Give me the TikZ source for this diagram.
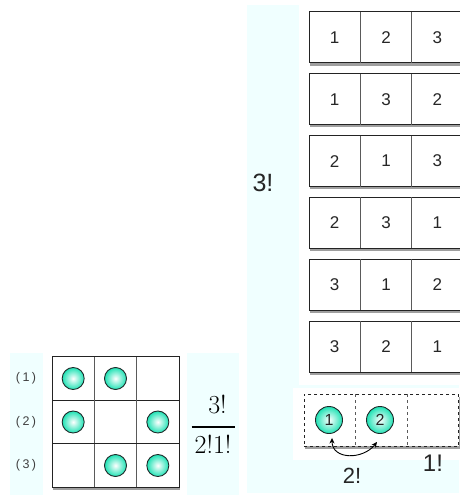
\documentclass[tikz,border=0pt]{standalone}
\usepackage{fontspec}
\usetikzlibrary{shadows,arrows.meta}
\newfontfamily\lblfont{Liberation Sans}
\definecolor{bgcyan}{RGB}{240,255,255}
\definecolor{ballc}{RGB}{30,226,180}
\definecolor{ballline}{RGB}{30,40,40}
\definecolor{boxline}{RGB}{35,35,35}
\definecolor{divline}{RGB}{90,90,90}
\tikzset{
  shadowed/.style={drop shadow={shadow xshift=1.2pt, shadow yshift=-2.6pt, opacity=0.5, fill=black!75}},
  rrow/.style={shadowed, draw=boxline, line width=1pt, fill=white, minimum width=154pt, minimum height=51pt, inner sep=0pt, outer sep=0pt},
  lrow/.style={shadowed, draw=boxline, line width=1pt, fill=white, minimum width=127pt, minimum height=43.5pt, inner sep=0pt, outer sep=0pt},
  drow/.style={shadowed, draw=boxline, dashed, line width=0.8pt, fill=white, minimum width=154.5pt, minimum height=52pt, inner sep=0pt, outer sep=0pt},
  rcell/.style={minimum width=51.33pt, minimum height=51pt, inner sep=0pt, outer sep=0pt, font=\lblfont\fontsize{17}{19}\selectfont, text=black!85},
  lcell/.style={minimum width=42.33pt, minimum height=43.5pt, inner sep=0pt, outer sep=0pt},
  dcell/.style={minimum width=51.5pt, minimum height=52pt, inner sep=0pt, outer sep=0pt},
  divider/.style={draw=divline, line width=0.6pt},
  ddivider/.style={draw=divline, dashed, line width=0.7pt},
  ball/.style={circle, draw=ballline, line width=0.9pt, inner color=white, outer color=ballc, minimum size=22pt, inner sep=0pt},
  bigball/.style={ball, minimum size=27pt, font=\lblfont\fontsize{16}{18}\selectfont, text=black!85},
  rowlbl/.style={font=\lblfont\fontsize{12.5}{14}\selectfont, text=black!75, inner sep=0pt},
  biglbl/.style={font=\lblfont\fontsize{#1}{#1}\selectfont, text=black!85, inner sep=0pt},
  fraclbl/.style={font=\fontsize{26}{26}\selectfont, inner sep=0pt},
  arrowline/.style={line width=0.9pt, {Stealth[length=5.5pt,width=5pt]}-{Stealth[length=5.5pt,width=5pt]}}
}
\begin{document}
\begin{tikzpicture}[x=1pt,y=-1pt]
\useasboundingbox (0,0) rectangle (459,495);
% backgrounds
\fill[bgcyan] (10,353) rectangle (43,495);
\fill[bgcyan] (187,353) rectangle (239,495);
\fill[bgcyan] (247,5) rectangle (459,493);
\fill[white] (299,5) rectangle (459,385);
\fill[white] (293,388) rectangle (459,460);

% left grid
\foreach \i/\yy in {1/378.5, 2/422, 3/465.5} {
  \node[lrow] (L\i) at (115.5,\yy) {};
  \node[lcell] (L\i-a) at (73.17,\yy) {};
  \node[lcell] (L\i-b) at (115.5,\yy) {};
  \node[lcell] (L\i-c) at (157.83,\yy) {};
  \draw[divider] (L\i-a.north east) -- (L\i-a.south east);
  \draw[divider] (L\i-b.north east) -- (L\i-b.south east);
  \node[rowlbl] (P\i) at (26,\yy) {(\kern2.5pt\i\kern2.5pt)};
}
\node[ball] (K1a) at (L1-a) {};
\node[ball] (K1b) at (L1-b) {};
\node[ball] (K2a) at (L2-a) {};
\node[ball] (K2c) at (L2-c) {};
\node[ball] (K3b) at (L3-b) {};
\node[ball] (K3c) at (L3-c) {};

% fraction
\node[fraclbl] (Fn) at (217.5,404.5) {3!};
\node[fraclbl] (Fd) at (213,444.5) {2!1!};
\coordinate (FL) at (191.5,427);
\coordinate (FR) at (234.5,427);
\draw[line width=1.2pt] (FL) -- (FR);

% right rows
\foreach \i/\a/\b/\c in {1/1/2/3, 2/1/3/2, 3/2/1/3, 4/2/3/1, 5/3/1/2, 6/3/2/1} {
  \pgfmathsetmacro\yy{37.5+61.8*(\i-1)}
  \node[rrow] (R\i) at (386,\yy) {};
  \node[rcell] (R\i-a) at (334.67,\yy) {\a};
  \node[rcell] (R\i-b) at (386,\yy) {\b};
  \node[rcell] (R\i-c) at (437.33,\yy) {\c};
  \draw[divider] (R\i-a.north east) -- (R\i-a.south east);
  \draw[divider] (R\i-b.north east) -- (R\i-b.south east);
}
\node[biglbl=25] (T3) at (263,183) {3!};

% dashed row
\node[drow] (D) at (381.25,420) {};
\node[dcell] (D-a) at (329.75,420) {};
\node[dcell] (D-b) at (381.25,420) {};
\node[dcell] (D-c) at (432.75,420) {};
\draw[ddivider] (D-a.north east) -- (D-a.south east);
\draw[ddivider] (D-b.north east) -- (D-b.south east);
\node[bigball] (B1) at (329,420) {1};
\node[bigball] (B2) at (380,420) {2};
\draw[arrowline] ([xshift=3pt,yshift=-4pt]B1.south) .. controls +(0,22) and +(-14,18) .. ([xshift=-3pt,yshift=-8pt]B2.south);
\node[biglbl=22] (T2) at (352,476) {2!};
\node[biglbl=24] (T1) at (433,463) {1!};
\end{tikzpicture}
\end{document}
